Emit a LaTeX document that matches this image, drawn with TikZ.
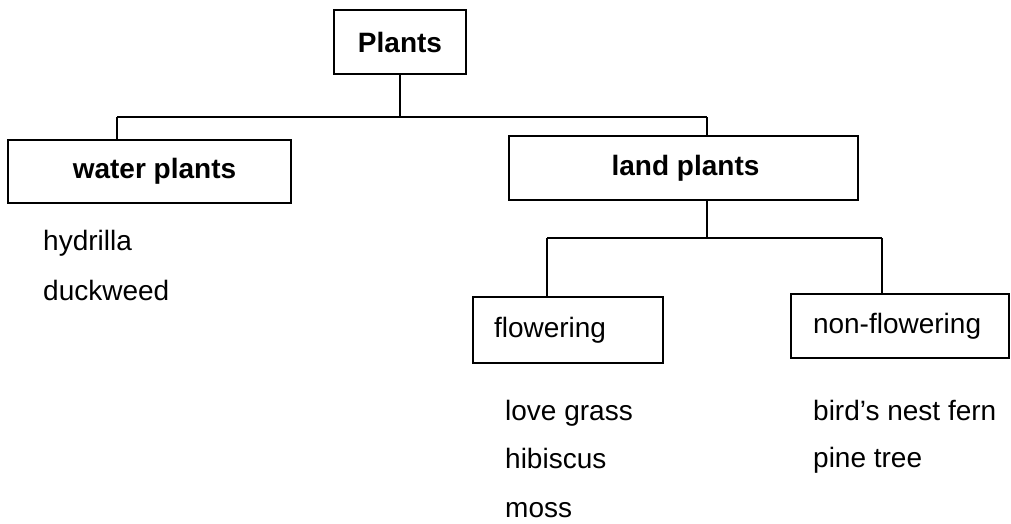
\documentclass[tikz,border=0pt]{standalone}
\usepackage{fontspec}
\setmainfont{Liberation Sans}
\begin{document}
\begin{tikzpicture}[x=1pt,y=-1pt,
  box/.style={draw=black, line width=1.2pt, inner sep=0pt, font=\fontsize{28}{32}\selectfont\bfseries},
  subbox/.style={draw=black, line width=1.2pt, inner ysep=0pt, align=left, font=\fontsize{28}{32}\selectfont},
  item/.style={anchor=base west, inner sep=0pt, font=\fontsize{28}{32}\selectfont},
  conn/.style={draw=black, line width=1.2pt}]
\useasboundingbox (0,0) rectangle (1011,523);
% boxes
\node[box, minimum width=132pt, minimum height=64pt] (plants) at (400,42) {Plants};
\node[box, minimum width=283pt, minimum height=63pt] (water) at (149.5,171.5) {\hspace*{10pt}water plants};
\node[box, minimum width=349pt, minimum height=64pt] (land) at (683.5,168) {\hspace*{4pt}land plants};
\node[subbox, inner xsep=21pt, text width=148pt, minimum height=66pt] (flow) at (568,330) {flowering};
\node[subbox, inner xsep=22pt, text width=174pt, minimum height=64pt] (nonf) at (900,326) {non-flowering};
% junction coordinates
\coordinate (w1) at (117,117);
\coordinate (l1) at (707,117);
\coordinate (l2) at (707,238);
\coordinate (f1) at (547,238);
\coordinate (n1) at (882,238);
% connectors
\draw[conn] (plants.south) -- (plants.south |- w1);
\draw[conn] (w1) -- (l1);
\draw[conn] (w1) -- (w1 |- water.north);
\draw[conn] (l1) -- (l1 |- land.north);
\draw[conn] (l1 |- land.south) -- (l2);
\draw[conn] (f1) -- (n1);
\draw[conn] (f1) -- (f1 |- flow.north);
\draw[conn] (n1) -- (n1 |- nonf.north);
% lists
\node[item] (hyd) at (43,250) {hydrilla};
\node[item] (duck) at (43,300) {duckweed};
\node[item] (love) at (505,420) {love grass};
\node[item] (hib) at (505,468) {hibiscus};
\node[item] (moss) at (505,517) {moss};
\node[item] (bird) at (813,420) {bird’s nest fern};
\node[item] (pine) at (813,467) {pine tree};
\end{tikzpicture}
\end{document}
